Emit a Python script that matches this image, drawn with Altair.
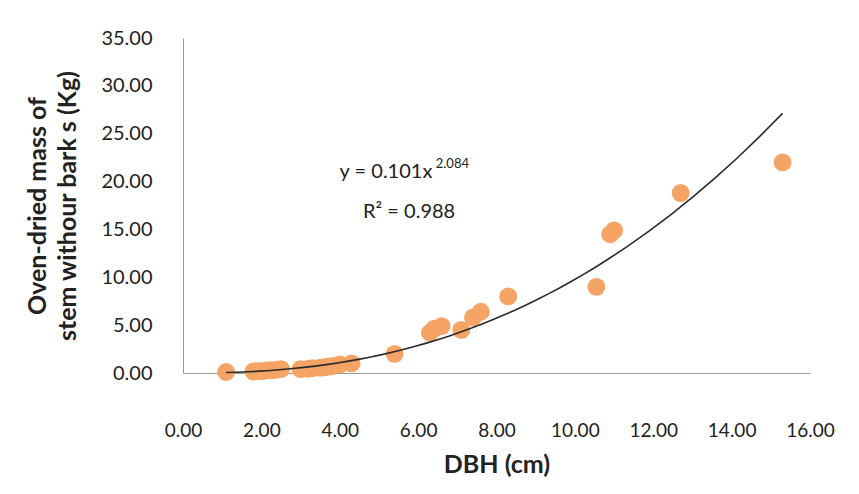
import altair as alt
import pandas as pd

dbh = [1.1, 1.8, 1.9, 2.0, 2.1, 2.2, 2.3, 2.4, 2.5,
       3.0, 3.2, 3.3, 3.5, 3.6, 3.7, 3.8, 4.0, 4.3,
       5.4, 6.3, 6.4, 6.6, 7.1, 7.4, 7.6, 8.3,
       10.55, 10.9, 11.0, 12.7, 15.3]
mass = [0.1, 0.15, 0.2, 0.2, 0.25, 0.3, 0.3, 0.35, 0.4,
        0.4, 0.45, 0.5, 0.55, 0.6, 0.65, 0.7, 0.9, 1.0,
        2.0, 4.2, 4.6, 4.9, 4.5, 5.8, 6.4, 8.0,
        9.0, 14.5, 14.9, 18.8, 22.0]

x_ticks = [0, 2, 4, 6, 8, 10, 12, 14, 16]
y_ticks = [0, 5, 10, 15, 20, 25, 30, 35]

df = pd.DataFrame({"DBH": dbh, "Mass": mass})

FONT = "Lato"

xenc = alt.X("DBH:Q", scale=alt.Scale(domain=[0, 16], nice=False),
             axis=alt.Axis(values=x_ticks, format=".2f", title="DBH (cm)",
                           grid=False, ticks=False, labelPadding=48, labelFlush=False,
                           labelFontSize=19, titlePadding=12, domainColor="#999999"))
yenc = alt.Y("Mass:Q", scale=alt.Scale(domain=[0, 35], nice=False),
             axis=alt.Axis(values=y_ticks, format=".2f",
                           title=["Oven-dried mass of", "stem withour bark s (Kg)"],
                           grid=False, ticks=False, labelPadding=31, labelFlush=False,
                           labelFontSize=20, titlePadding=20, titleLineHeight=30,
                           domainColor="#999999"))

points = alt.Chart(df).mark_circle(size=320, color="#F5A466", opacity=1).encode(
    x=xenc, y=yenc)

trend = alt.Chart(df).transform_regression(
    "DBH", "Mass", method="pow", extent=[1.1, 15.3]
).mark_line(color="#2b2b2b", strokeWidth=1.6).encode(x="DBH:Q", y="Mass:Q")

eq_df = pd.DataFrame({"x": [5.18], "y": [21.0], "t": ["y = 0.101x"]})
sup_df = pd.DataFrame({"x": [6.45], "y": [21.8], "t": ["2.084"]})
r2_df = pd.DataFrame({"x": [5.77], "y": [16.8], "t": ["R² = 0.988"]})

eq = alt.Chart(eq_df).mark_text(font=FONT, fontSize=20, color="#222222", align="center").encode(
    x="x:Q", y="y:Q", text="t:N")
sup = alt.Chart(sup_df).mark_text(font=FONT, fontSize=13, color="#222222", align="left").encode(
    x="x:Q", y="y:Q", text="t:N")
r2 = alt.Chart(r2_df).mark_text(font=FONT, fontSize=20, color="#222222", align="center").encode(
    x="x:Q", y="y:Q", text="t:N")

chart = alt.layer(points, trend, eq, sup, r2).properties(
    width=627, height=335,
    autosize=alt.AutoSizeParams(type="none"),
    padding={"left": 183, "top": 38, "right": 49, "bottom": 121},
    background="white",
).configure_view(stroke=None).configure_axis(
    labelFont=FONT, labelColor="#222222",
    titleFont=FONT, titleFontSize=25, titleFontWeight="bold", titleColor="#222222",
)

chart.save("out.html", embed_options={"renderer": "svg", "actions": False})
